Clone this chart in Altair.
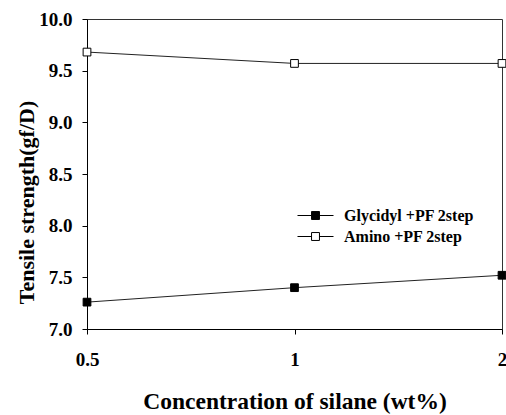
import altair as alt
import pandas as pd

concentration = [0.5, 1, 2]
glycidyl = [7.26, 7.40, 7.52]
amino = [9.68, 9.57, 9.57]
series_names = ["Glycidyl +PF 2step", "Amino +PF 2step"]

rows = []
for c, g, a in zip(concentration, glycidyl, amino):
    rows.append({"conc": c, "value": g, "series": series_names[0]})
    rows.append({"conc": c, "value": a, "series": series_names[1]})
df = pd.DataFrame(rows)

FONT = "Liberation Serif"
LEGEND_SYMBOL = "M-1.5,0H-0.33M0.33,0H1.5M-0.33,-0.33H0.33V0.33H-0.33Z"

x = alt.X("conc:Q", scale=alt.Scale(type="log", domain=[0.5, 2], nice=False),
          axis=alt.Axis(values=concentration, title="Concentration of silane (wt%)",
                        grid=False, tickSize=5, labelPadding=16, titlePadding=20,
                        labelFlush=False, labelOverlap=False, titleFontSize=23.5,
                        labelExpr="datum.value == 0.5 ? '0.5' : format(datum.value, 'd')"))
y = alt.Y("value:Q", scale=alt.Scale(domain=[7.0, 10.0], nice=False, zero=False),
          axis=alt.Axis(values=[7.0, 7.5, 8.0, 8.5, 9.0, 9.5, 10.0], format=".1f",
                        title="Tensile strength(gf/D)", grid=False, tickSize=5,
                        labelFlush=False, labelOverlap=False, titleFontSize=22,
                        labelPadding=10, titlePadding=0, titleY=183))

line = alt.Chart(df).mark_line(strokeWidth=1, color="#222222").encode(x=x, y=y, detail="series:N")

points = alt.Chart(df).mark_point(shape="square", size=60, strokeWidth=1, opacity=1,
                                  stroke="#000000").encode(
    x=x, y=y,
    fill=alt.Fill("series:N", scale=alt.Scale(domain=series_names, range=["#000000", "#ffffff"]),
                  legend=alt.Legend(title=None, orient="none", legendX=216, legendY=184,
                                    symbolType=LEGEND_SYMBOL, symbolSize=576,
                                    symbolStrokeColor="#000000",
                                    symbolStrokeWidth=1, labelFont=FONT, labelFontSize=16,
                                    labelFontWeight="bold", labelColor="#000000", rowPadding=0,
                                    labelOffset=16, symbolOpacity=1)),
)

chart = alt.layer(line, points).properties(
    width=415, height=310,
    autosize=alt.AutoSizeParams(type="none"),
    padding={"left": 87, "top": 19, "right": 4, "bottom": 86},
).configure(background="white").configure_view(stroke="#333333", strokeWidth=1).configure_axis(
    labelFont=FONT, labelFontSize=19, labelFontWeight="bold", labelColor="#000000",
    titleFont=FONT, titleFontWeight="bold", titleColor="#000000",
    domainColor="#000000", tickColor="#000000", domainWidth=1, tickWidth=1,
)

chart.save("out.html", embed_options={"renderer": "svg", "actions": False})
